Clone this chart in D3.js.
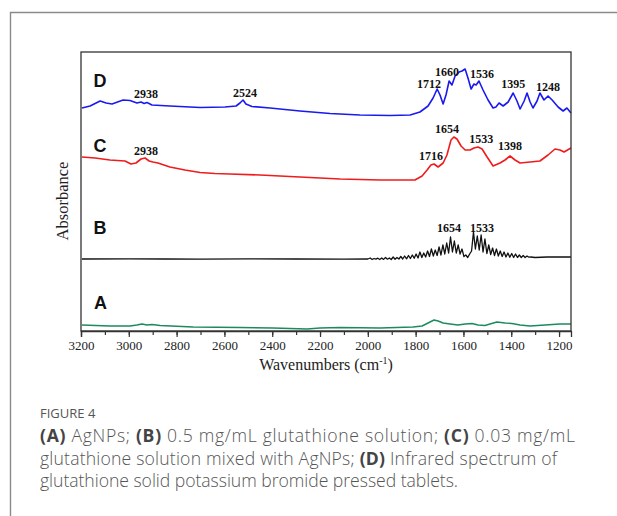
<!DOCTYPE html>
<html><head><meta charset="utf-8">
<script src="https://cdn.jsdelivr.net/npm/d3@7"></script>
<style>html,body{margin:0;padding:0;background:#fff;}</style>
</head><body>
<svg id="chart" width="617" height="516"></svg>
<script>
// ---- data ----
const xTicks = [3200,3000,2800,2600,2400,2200,2000,1800,1600,1400,1200];
const seriesNames = ["A","B","C","D"];
const seriesD = [[3196,2.23],[3162,2.25],[3120,2.30],[3095,2.28],[3070,2.27],[3024,2.31],[2995,2.305],[2966,2.28],[2949,2.29],[2936,2.275],[2924,2.285],[2903,2.26],[2828,2.25],[2702,2.235],[2598,2.24],[2551,2.25],[2535,2.28],[2522,2.31],[2510,2.27],[2485,2.245],[2409,2.23],[2284,2.20],[2158,2.175],[2033,2.16],[1907,2.155],[1823,2.16],[1782,2.19],[1748,2.25],[1727,2.33],[1710,2.42],[1698,2.36],[1685,2.27],[1673,2.36],[1660,2.50],[1648,2.46],[1635,2.55],[1618,2.59],[1606,2.60],[1593,2.62],[1581,2.53],[1568,2.42],[1556,2.47],[1547,2.46],[1535,2.50],[1518,2.41],[1497,2.31],[1476,2.23],[1464,2.24],[1451,2.28],[1434,2.25],[1413,2.29],[1392,2.38],[1376,2.30],[1363,2.22],[1346,2.30],[1334,2.38],[1321,2.29],[1309,2.23],[1292,2.30],[1280,2.38],[1263,2.31],[1246,2.35],[1229,2.31],[1204,2.24],[1183,2.20],[1167,2.23],[1150,2.18]];
const seriesC = [[3196,1.74],[3141,1.73],[3079,1.71],[3016,1.70],[2991,1.67],[2970,1.68],[2949,1.72],[2932,1.73],[2915,1.70],[2899,1.69],[2878,1.68],[2828,1.64],[2765,1.61],[2702,1.585],[2640,1.575],[2577,1.57],[2451,1.56],[2284,1.54],[2116,1.52],[1949,1.51],[1803,1.51],[1773,1.55],[1752,1.61],[1736,1.66],[1723,1.67],[1706,1.64],[1685,1.68],[1669,1.76],[1652,1.91],[1640,1.94],[1627,1.92],[1610,1.85],[1593,1.81],[1572,1.81],[1556,1.83],[1539,1.84],[1522,1.82],[1501,1.74],[1476,1.65],[1447,1.68],[1426,1.71],[1405,1.75],[1384,1.71],[1363,1.68],[1321,1.69],[1280,1.70],[1246,1.76],[1217,1.82],[1196,1.81],[1179,1.79],[1150,1.83]];
const seriesB = [[3196,0.72],[3000,0.722],[2850,0.72],[2700,0.718],[2500,0.722],[2300,0.72],[2100,0.718],[2000,0.72],[1990,0.73],[1982,0.715],[1974,0.725],[1966,0.718],[1958,0.728],[1950,0.715],[1942,0.73],[1934,0.716],[1926,0.735],[1918,0.718],[1910,0.73],[1902,0.715],[1894,0.74],[1886,0.718],[1878,0.735],[1870,0.72],[1862,0.745],[1854,0.72],[1846,0.75],[1838,0.722],[1830,0.755],[1822,0.725],[1814,0.76],[1806,0.728],[1798,0.77],[1790,0.73],[1782,0.79],[1774,0.735],[1766,0.78],[1758,0.74],[1750,0.80],[1742,0.745],[1734,0.82],[1726,0.75],[1718,0.81],[1710,0.755],[1702,0.84],[1694,0.76],[1686,0.86],[1678,0.77],[1670,0.88],[1662,0.78],[1654,0.94],[1646,0.79],[1638,0.90],[1630,0.78],[1622,0.86],[1614,0.77],[1606,0.82],[1598,0.745],[1590,0.76],[1582,0.735],[1574,0.77],[1566,0.80],[1558,0.99],[1550,0.82],[1542,0.95],[1534,0.81],[1526,0.96],[1518,0.79],[1510,0.92],[1502,0.775],[1494,0.86],[1486,0.765],[1478,0.83],[1470,0.755],[1462,0.82],[1454,0.75],[1446,0.80],[1438,0.745],[1430,0.79],[1422,0.74],[1414,0.78],[1406,0.738],[1398,0.775],[1390,0.735],[1382,0.77],[1374,0.735],[1366,0.76],[1358,0.735],[1350,0.755],[1342,0.735],[1334,0.75],[1326,0.738],[1318,0.74],[1300,0.735],[1250,0.74],[1200,0.74],[1150,0.74]];
const seriesA = [[3196,0.06],[3079,0.05],[2995,0.05],[2966,0.06],[2945,0.07],[2924,0.06],[2903,0.065],[2869,0.055],[2731,0.04],[2535,0.035],[2397,0.03],[2326,0.025],[2254,0.02],[2200,0.03],[2116,0.035],[1949,0.03],[1811,0.04],[1773,0.05],[1748,0.08],[1723,0.11],[1706,0.10],[1685,0.08],[1656,0.07],[1623,0.06],[1593,0.07],[1564,0.075],[1539,0.06],[1510,0.055],[1489,0.07],[1460,0.09],[1426,0.08],[1397,0.075],[1363,0.06],[1321,0.05],[1259,0.06],[1196,0.07],[1150,0.07]];
// peak annotations: [text, wavenumber, absorbance]
const peakLabels = [
  ["2938",2928,2.33],["2524",2514,2.34],["1712",1744,2.43],["1660",1669,2.55],["1536",1522,2.53],["1395",1392,2.43],["1248",1246,2.40],
  ["2938",2928,1.76],["1716",1736,1.71],["1654",1669,1.98],["1533",1526,1.88],["1398",1405,1.81],
  ["1654",1660,0.99],["1533",1522,0.99]
];
// series letter labels: [letter, wavenumber, absorbance]
const letterLabels = [["D",3120,2.44],["C",3120,1.79],["B",3120,0.97],["A",3118,0.22]];
const captionTitle = "FIGURE 4";
const captionLines = [
  [["(A)",1],[" AgNPs; ",0],["(B)",1],[" 0.5 mg/mL glutathione solution; ",0],["(C)",1],[" 0.03 mg/mL",0]],
  [["glutathione solution mixed with AgNPs; ",0],["(D)",1],[" Infrared spectrum of",0]],
  [["glutathione solid potassium bromide pressed tablets.",0]]
];

// ---- drawing ----
const svg = d3.select("#chart");
const M = {left:81, right:571, top:52, bottom:331};
const x = d3.scaleLinear().domain([3200,1150]).range([M.left, M.right]);
const y = d3.scaleLinear().domain([0,2.79]).range([M.bottom, M.top]);

// outer figure frame
svg.append("path").attr("d","M617,12.5 H10.5 V516").attr("fill","none").attr("stroke","#8a8a8a").attr("stroke-width",1.4);

const g = svg.append("g");
const line = d3.line().x(d=>x(d[0])).y(d=>y(d[1]));
const series = [[seriesA,"#1d8a5e",1.4],[seriesB,"#111",1.3],[seriesC,"#ee1c1c",1.6],[seriesD,"#1a1aee",1.6]];
g.selectAll("path.s").data(series).join("path").attr("class","s")
  .attr("d",d=>line(d[0])).attr("fill","none").attr("stroke",d=>d[1]).attr("stroke-width",d=>d[2])
  .attr("stroke-linejoin","round");

// frame
g.append("rect").attr("x",M.left).attr("y",M.top).attr("width",M.right-M.left).attr("height",M.bottom-M.top)
  .attr("fill","none").attr("stroke","#333").attr("stroke-width",1.3);

// x axis
const minorTicks = d3.range(3200,1149,-100);
const ax = g.append("g").attr("transform",`translate(0,${M.bottom})`);
ax.call(d3.axisBottom(x).tickValues(minorTicks).tickSize(4).tickFormat(""))
  .call(s=>{s.select(".domain").remove(); s.selectAll("line").attr("stroke","#333").attr("stroke-width",1.2);});
const ax2 = g.append("g").attr("transform",`translate(0,${M.bottom})`);
ax2.call(d3.axisBottom(x).tickValues(xTicks).tickSize(6).tickPadding(4).tickFormat(d3.format("d")))
  .call(s=>{s.select(".domain").attr("stroke","#333").attr("stroke-width",1.3);
    s.selectAll("line").attr("stroke","#333").attr("stroke-width",1.2);
    s.selectAll("text").attr("font-family","Liberation Serif, Times New Roman, serif").attr("font-size",13).attr("fill","#222");});

// axis titles
const xt = svg.append("text").attr("x",(M.left+M.right)/2).attr("y",370).attr("text-anchor","middle")
  .attr("font-family","Liberation Serif, serif").attr("font-size",16).attr("fill","#222");
xt.append("tspan").text("Wavenumbers (cm");
xt.append("tspan").text("-1").attr("font-size",10).attr("dy",-6);
xt.append("tspan").text(")").attr("dy",6);
svg.append("text").attr("transform","translate(68,201) rotate(-90)").attr("text-anchor","middle")
  .attr("font-family","Liberation Serif, serif").attr("font-size",16.5).attr("fill","#222").text("Absorbance");

// peak labels
g.selectAll("text.pk").data(peakLabels).join("text").attr("class","pk")
  .attr("x",d=>x(d[1])).attr("y",d=>y(d[2])).attr("text-anchor","middle")
  .attr("font-family","Liberation Serif, serif").attr("font-weight","bold").attr("font-size",12).attr("fill","#111")
  .text(d=>d[0]);
g.selectAll("text.lt").data(letterLabels).join("text").attr("class","lt")
  .attr("x",d=>x(d[1])).attr("y",d=>y(d[2])).attr("text-anchor","middle")
  .attr("font-family","Liberation Sans, Arial, sans-serif").attr("font-weight","bold").attr("font-size",18).attr("fill","#111")
  .text(d=>d[0]);

// caption
const cap = svg.append("g").attr("font-family","Open Sans, sans-serif").attr("fill","#555");
cap.append("text").attr("x",40).attr("y",418).attr("font-size",13).text(captionTitle);
const capWidths = [535, 517, 418];
captionLines.forEach((ln,i)=>{
  const t = cap.append("text").attr("x",40).attr("y",442+i*22.7).attr("font-size",17.6).attr("font-weight",300)
    .attr("textLength",capWidths[i]).attr("lengthAdjust","spacing");
  ln.forEach(p=>t.append("tspan").text(p[0]).attr("font-weight",p[1]?"bold":null).attr("fill",p[1]?"#444":"#555"));
});
</script>
</body></html>
